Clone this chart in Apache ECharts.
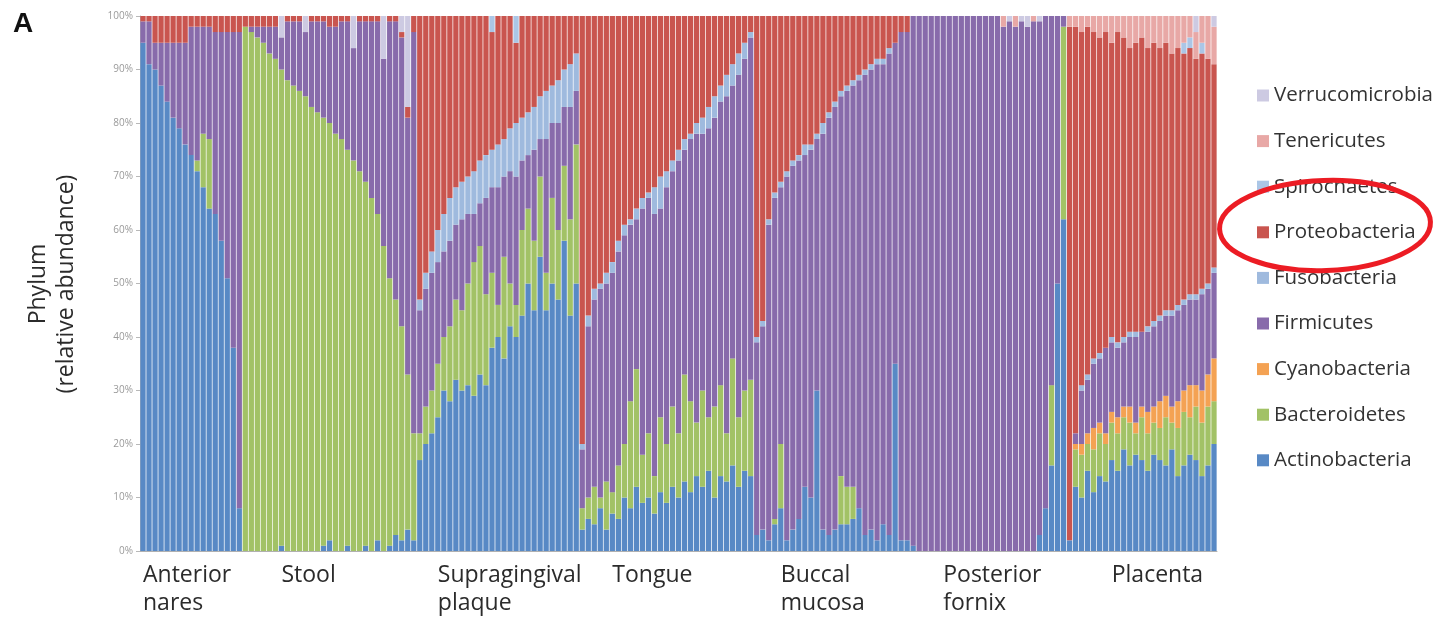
<!DOCTYPE html>
<html>
<head>
<meta charset="utf-8">
<script src="https://cdn.jsdelivr.net/npm/echarts@6/dist/echarts.min.js"></script>
<style>html,body{margin:0;padding:0;background:#fff}#chart{width:1441px;height:627px}</style>
</head>
<body>
<div id="chart"></div>
<script>
// ---- data (relative abundance, % per sample) ----
const siteNames = ['Anterior\nnares', 'Stool', 'Supragingival\nplaque', 'Tongue', 'Buccal\nmucosa', 'Posterior\nfornix', 'Placenta'];
const siteCodes = ['AN', 'ST', 'SP', 'TG', 'BM', 'PF', 'PL'];
const siteSampleCounts = [17, 29, 27, 29, 25, 27, 25];
const phyla = ['Actinobacteria', 'Bacteroidetes', 'Cyanobacteria', 'Firmicutes', 'Fusobacteria', 'Proteobacteria', 'Spirochaetes', 'Tenericutes', 'Verrucomicrobia'];
const yTickLabels = ['0%', '10%', '20%', '30%', '40%', '50%', '60%', '70%', '80%', '90%', '100%'];

const actinobacteria = [
  95,91,90,87,84, 81,79,76,74,71, 68,64,63,58,51, 38,8,
  0,0,0,0,0, 0,1,0,0,0, 0,0,0,1,2, 0,0,1,0,0, 1,0,2,0,1, 3,2,4,2,
  17,20,22,25,30, 28,32,30,31,29, 33,31,38,40,36, 42,40,44,50,45, 55,45,50,47,58, 44,50,
  4,6,5,8,4, 7,6,10,8,12, 9,10,7,11,9, 12,10,13,11,14, 12,15,10,14,13, 16,12,15,14,
  3,4,2,5,8, 2,4,6,12,10, 30,4,3,4,5, 5,6,8,3,4, 2,5,3,35,2,
  2,1,0,0,0, 0,0,0,0,0, 0,0,0,0,0, 0,0,0,0,0, 0,0,3,8,16, 50,62,
  2,12,10,15,11, 14,13,17,15,19, 16,18,17,15,18, 17,16,19,14,16, 18,17,14,16,20
];
const bacteroidetes = [
  0,0,0,0,0, 0,0,0,0,2, 10,13,0,0,0, 0,0,
  98,97,96,95,93, 92,89,88,87,86, 85,83,82,80,78, 78,77,74,73,71, 68,66,61,57,50, 44,40,29,20,
  5,7,8,10,10, 14,15,15,19,25, 24,17,14,6,19, 8,6,16,14,13, 15,7,16,13,14, 18,26,
  4,4,7,2,9, 4,10,10,20,22, 9,12,7,14,11, 15,12,20,17,10, 18,10,17,17,9, 20,13,15,18,
  0,0,0,1,12, 0,0,0,0,0, 0,0,0,0,9, 7,6,0,0,0, 0,0,0,0,0,
  0,0,0,0,0, 0,0,0,0,0, 0,0,0,0,0, 0,0,0,0,0, 0,0,0,0,15, 0,36,
  0,7,8,5,8, 8,7,7,7,6, 8,4,8,7,6, 6,9,5,9,10, 7,10,10,11,8
];
const cyanobacteria = [
  0,0,0,0,0, 0,0,0,0,0, 0,0,0,0,0, 0,0,
  0,0,0,0,0, 0,0,0,0,0, 0,0,0,0,0, 0,0,0,0,0, 0,0,0,0,0, 0,0,0,0,
  0,0,0,0,0, 0,0,0,0,0, 0,0,0,0,0, 0,0,0,0,0, 0,0,0,0,0, 0,0,
  0,0,0,0,0, 0,0,0,0,0, 0,0,0,0,0, 0,0,0,0,0, 0,0,0,0,0, 0,0,0,0,
  0,0,0,0,0, 0,0,0,0,0, 0,0,0,0,0, 0,0,0,0,0, 0,0,0,0,0,
  0,0,0,0,0, 0,0,0,0,0, 0,0,0,0,0, 0,0,0,0,0, 0,0,0,0,0, 0,0,
  0,1,2,2,4, 2,2,2,3,2, 3,2,2,4,3, 5,4,3,5,4, 6,4,6,6,8
];
const firmicutes = [
  4,8,5,8,11, 14,16,19,24,25, 20,21,34,39,46, 59,89,
  0,1,2,3,5, 6,6,11,12,13, 12,16,17,18,18, 20,22,24,21,28, 30,33,36,35,48, 52,54,48,75,
  23,22,22,19,16, 16,14,17,13,9, 8,18,16,22,15, 21,24,13,10,17, 7,25,14,20,11, 21,10,
  11,32,35,39,37, 41,40,39,33,28, 46,44,49,39,48, 44,51,42,49,54, 48,54,54,53,63, 51,64,62,64,
  36,38,59,60,48, 68,68,67,62,65, 47,74,78,79,71, 74,75,80,86,86, 89,86,90,60,95,
  95,99,100,100,100, 100,100,100,100,100, 100,100,100,100,100, 100,98,99,98,99, 98,99,96,92,69, 50,2,
  0,2,10,10,12, 12,16,13,13,12, 13,16,14,15,15, 15,15,17,17,16, 16,16,18,16,16
];
const fusobacteria = [
  0,0,0,0,0, 0,0,0,0,0, 0,0,0,0,0, 0,0,
  0,0,0,0,0, 0,0,0,0,0, 0,0,0,0,0, 0,0,0,0,0, 0,0,0,0,0, 0,0,0,0,
  2,3,4,6,7, 8,7,7,7,8, 8,8,7,8,7, 8,10,8,8,8, 8,9,7,8,7, 8,7,
  1,2,2,1,2, 2,2,2,1,2, 2,1,5,6,3, 2,2,2,1,2, 3,4,4,3,4, 4,4,3,1,
  1,1,1,1,1, 1,1,1,2,1, 1,2,1,1,1, 1,1,1,1,1, 1,1,1,0,0,
  0,0,0,0,0, 0,0,0,0,0, 0,0,0,0,0, 0,0,0,0,0, 0,0,0,0,0, 0,0,
  0,0,1,1,1, 1,0,1,1,1, 1,1,0,1,1, 1,1,1,1,1, 1,1,1,1,1
];
const proteobacteria = [
  1,1,5,5,5, 5,5,5,2,2, 2,2,3,3,3, 3,3,
  2,2,2,2,2, 2,0,1,1,1, 0,1,1,1,2, 2,1,1,0,1, 1,1,1,0,1, 1,1,2,3,
  53,48,44,40,37, 34,32,31,30,29, 27,26,22,24,23, 21,15,19,18,17, 15,14,13,12,10, 9,7,
  80,56,51,50,48, 46,42,39,38,36, 34,33,32,30,29, 27,25,23,22,20, 19,17,15,13,11, 9,7,5,3,
  60,57,38,33,31, 29,27,26,24,24, 22,20,18,16,14, 13,12,11,10,9, 8,8,6,5,3,
  3,0,0,0,0, 0,0,0,0,0, 0,0,0,0,0, 0,0,0,0,0, 0,0,0,0,0, 0,0,
  96,76,66,65,61, 59,59,55,58,56, 53,54,55,52,52, 50,50,48,48,46, 46,44,44,42,38
];
const spirochaetes = [
  0,0,0,0,0, 0,0,0,0,0, 0,0,0,0,0, 0,0,
  0,0,0,0,0, 0,0,0,0,0, 0,0,0,0,0, 0,0,0,0,0, 0,0,0,0,0, 0,0,0,0,
  0,0,0,0,0, 0,0,0,0,0, 0,0,3,0,0, 0,5,0,0,0, 0,0,0,0,0, 0,0,
  0,0,0,0,0, 0,0,0,0,0, 0,0,0,0,0, 0,0,0,0,0, 0,0,0,0,0, 0,0,0,0,
  0,0,0,0,0, 0,0,0,0,0, 0,0,0,0,0, 0,0,0,0,0, 0,0,0,0,0,
  0,0,0,0,0, 0,0,0,0,0, 0,0,0,0,0, 0,0,0,0,0, 0,0,0,0,0, 0,0,
  0,0,0,0,0, 0,0,0,0,0, 0,0,0,0,0, 0,0,0,0,2, 2,0,2,0,0
];
const tenericutes = [
  0,0,0,0,0, 0,0,0,0,0, 0,0,0,0,0, 0,0,
  0,0,0,0,0, 0,0,0,0,0, 0,0,0,0,0, 0,0,0,0,0, 0,0,0,0,0, 0,0,0,0,
  0,0,0,0,0, 0,0,0,0,0, 0,0,0,0,0, 0,0,0,0,0, 0,0,0,0,0, 0,0,
  0,0,0,0,0, 0,0,0,0,0, 0,0,0,0,0, 0,0,0,0,0, 0,0,0,0,0, 0,0,0,0,
  0,0,0,0,0, 0,0,0,0,0, 0,0,0,0,0, 0,0,0,0,0, 0,0,0,0,0,
  0,0,0,0,0, 0,0,0,0,0, 0,0,0,0,0, 0,2,0,2,0, 0,1,0,0,0, 0,0,
  2,2,3,2,3, 4,3,5,3,4, 6,5,4,6,5, 6,5,7,6,5, 4,5,5,8,7
];
const verrucomicrobia = [
  0,0,0,0,0, 0,0,0,0,0, 0,0,0,0,0, 0,0,
  0,0,0,0,0, 0,4,0,0,0, 3,0,0,0,0, 0,0,0,6,0, 0,0,0,8,0, 0,3,17,0,
  0,0,0,0,0, 0,0,0,0,0, 0,0,0,0,0, 0,0,0,0,0, 0,0,0,0,0, 0,0,
  0,0,0,0,0, 0,0,0,0,0, 0,0,0,0,0, 0,0,0,0,0, 0,0,0,0,0, 0,0,0,0,
  0,0,0,0,0, 0,0,0,0,0, 0,0,0,0,0, 0,0,0,0,0, 0,0,0,0,0,
  0,0,0,0,0, 0,0,0,0,0, 0,0,0,0,0, 0,0,1,0,1, 2,0,1,0,0, 0,0,
  0,0,0,0,0, 0,0,0,0,0, 0,0,0,0,0, 0,0,0,0,0, 0,3,0,0,2
];

// ---- styling / layout (not data) ----
const phylumColors = ['#5889c5', '#a2c266', '#f4a253', '#886bab', '#9fbade', '#c9554f', '#abc6e6', '#e8a8a6', '#cdcae2'];
const labelOffsetInSite = [0, 6, 3, 5, 4, 6, 7];
const FONT = '"Open Sans", "DejaVu Sans", sans-serif';

const seriesValues = [actinobacteria, bacteroidetes, cyanobacteria, firmicutes, fusobacteria, proteobacteria, spirochaetes, tenericutes, verrucomicrobia];

const categories = [];
const labelAt = new Map();
siteSampleCounts.forEach((n, s) => {
  labelAt.set(categories.length + labelOffsetInSite[s], siteNames[s]);
  for (let i = 0; i < n; i++) categories.push(siteCodes[s] + (i + 1));
});

const chart = echarts.init(document.getElementById('chart'), null, {renderer: 'canvas'});
chart.setOption({
  animation: false,
  backgroundColor: '#ffffff',
  grid: {left: 140, right: 224, top: 16, bottom: 76, containLabel: false, outerBoundsMode: 'none'},
  xAxis: {
    type: 'category',
    data: categories,
    axisLine: {show: true, lineStyle: {color: '#b0b0b0', width: 1}},
    axisTick: {show: false},
    axisLabel: {
      interval: (index) => labelAt.has(index),
      formatter: (value, index) => labelAt.get(index) || '',
      align: 'left',
      fontSize: 23, lineHeight: 28, margin: 10,
      color: '#2b2b2b', fontFamily: FONT, hideOverlap: false
    },
    splitLine: {show: false}
  },
  yAxis: {
    type: 'value', min: 0, max: 100, interval: 10,
    axisLabel: {formatter: (v) => yTickLabels[Math.round(v / 10)], fontSize: 10, color: '#9a9a9a', margin: 7, fontFamily: FONT},
    axisLine: {show: true, lineStyle: {color: '#b8b8b8'}},
    axisTick: {show: true, length: 4, lineStyle: {color: '#b8b8b8'}},
    splitLine: {show: false}
  },
  legend: {
    orient: 'vertical', left: 1252, top: 80,
    itemWidth: 12, itemHeight: 12, itemGap: 24.6, icon: 'rect',
    selectedMode: false,
    data: phyla.slice().reverse(),
    textStyle: {fontSize: 20.5, lineHeight: 20, color: '#333', fontFamily: FONT}
  },
  series: phyla.map((name, k) => ({
    name, type: 'bar', stack: 'total',
    data: seriesValues[k],
    barCategoryGap: '12%',
    itemStyle: {color: phylumColors[k]},
    emphasis: {disabled: true}
  })),
  graphic: [
    {type: 'text', x: 23, y: 24, style: {text: 'A', font: 'bold 28px "Liberation Sans", Arial, sans-serif', fill: '#111', align: 'center', verticalAlign: 'middle', textAlign: 'center', textVerticalAlign: 'middle'}},
    {type: 'text', x: 52, y: 284, rotation: Math.PI / 2, style: {text: 'Phylum\n(relative abundance)', fontSize: 23, fontFamily: FONT, lineHeight: 28, fill: '#2b2b2b', align: 'center', verticalAlign: 'middle', textAlign: 'center', textVerticalAlign: 'middle'}},
    {type: 'ellipse', x: 1325, y: 225.5, rotation: 0.035, z: 100, shape: {cx: 0, cy: 0, rx: 105.5, ry: 45}, style: {fill: 'none', stroke: '#ec1c24', lineWidth: 5}}
  ]
});
</script>
</body>
</html>
